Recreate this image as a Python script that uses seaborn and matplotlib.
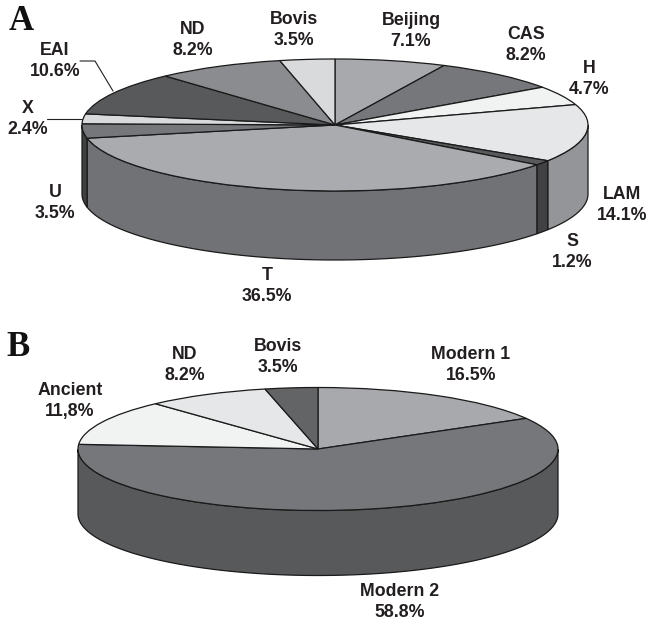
import numpy as np
import matplotlib
matplotlib.use("Agg")
import matplotlib.pyplot as plt
import seaborn as sns

W, H = 647, 624

# panel A
names_a = ["Beijing", "CAS", "H", "LAM", "S", "T", "U", "X", "EAI", "ND", "Bovis"]
values_a = [7.1, 8.2, 4.7, 14.1, 1.2, 36.5, 3.5, 2.4, 10.6, 8.2, 3.5]
pct_a = ["7.1%", "8.2%", "4.7%", "14.1%", "1.2%", "36.5%", "3.5%", "2.4%", "10.6%", "8.2%", "3.5%"]
top_a = ["#a7a9ac", "#76777b", "#f1f2f2", "#e6e7e8", "#58595b", "#a9abae",
         "#76777b", "#d9dadc", "#58595b", "#8a8c8f", "#d9dadc"]
side_a = ["#808285", "#58595b", "#bcbec0", "#939598", "#414042", "#717275",
          "#3f4042", "#a7a9ac", "#414042", "#6d6e71", "#a7a9ac"]
label_xy_a = [(411, 31), (526, 45), (589, 79), (622, 205), (572, 252), (267, 286),
              (55, 203), (28, 119), (55, 61), (193, 40), (294, 30)]

# panel B
names_b = ["Modern 1", "Modern 2", "Ancient", "ND", "Bovis"]
values_b = [16.5, 58.8, 11.8, 8.2, 3.5]
pct_b = ["16.5%", "58.8%", "11,8%", "8.2%", "3.5%"]
top_b = ["#a7a9ac", "#76777b", "#f1f2f2", "#e6e7e8", "#636466"]
side_b = ["#808285", "#58595b", "#bcbec0", "#b1b3b6", "#414042"]
label_xy_b = [(471, 365), (400, 602), (70, 401), (185, 365), (278, 357)]


def pie_3d(fig, names, values, pct, top, side, label_xy, cx, cy, rx, ry, depth, overlay):
    ax = fig.add_axes([(cx - rx) / W, 1 - (cy + ry) / H, 2 * rx / W, 2 * ry / H])
    wedges, _ = ax.pie(values, colors=top, startangle=90, counterclock=False, radius=1,
                       wedgeprops=dict(edgecolor="#1a1a1a", linewidth=0.9))
    ax.set_aspect("auto")
    ax.set_xlim(-1, 1)
    ax.set_ylim(-1, 1)
    for w in wedges:
        w.set_zorder(3)
        w.set_clip_on(False)

    # side wall, only the part of the rim that faces the viewer
    shares = np.array(values) / sum(values) * 360
    ends = np.cumsum(shares)
    starts = ends - shares
    drop = depth / ry
    for a, b, col in zip(starts, ends, side):
        a, b = max(a, 90), min(b, 270)
        if b <= a:
            continue
        t = np.radians(np.linspace(a, b, 80))
        x, y = np.sin(t), np.cos(t)
        ax.fill(np.r_[x, x[::-1]], np.r_[y, y[::-1] - drop], facecolor=col,
                edgecolor="#1a1a1a", linewidth=0.9, clip_on=False, zorder=2)

    for n, p, (lx, ly) in zip(names, pct, label_xy):
        overlay.text(lx, ly, n + "\n" + p, ha="center", va="center", fontsize=12.8,
                     fontweight="bold", color="#231f20", linespacing=1.38,
                     family="Liberation Sans")


sns.set_theme(style="white")
fig = plt.figure(figsize=(W / 100, H / 100), dpi=100, facecolor="white")

# pixel overlay for the labels and leader lines
overlay = fig.add_axes([0, 0, 1, 1], zorder=5)
overlay.set_xlim(0, W)
overlay.set_ylim(H, 0)
overlay.axis("off")

pie_3d(fig, names_a, values_a, pct_a, top_a, side_a, label_xy_a, 335, 125, 253, 66, 69, overlay)
pie_3d(fig, names_b, values_b, pct_b, top_b, side_b, label_xy_b, 318, 449, 240, 61.5, 65, overlay)

# leader lines
overlay.plot([80, 95, 113], [61, 61, 91], color="#231f20", lw=0.8)
overlay.plot([47, 82], [119, 119], color="#231f20", lw=0.8)

# panel letters
overlay.text(21, 22, "A", ha="center", va="center", fontsize=25, fontweight="bold",
             family="Liberation Serif", color="#111111")
overlay.text(18, 348, "B", ha="center", va="center", fontsize=25, fontweight="bold",
             family="Liberation Serif", color="#111111")

fig.savefig("out.png", dpi=100, facecolor="white")
